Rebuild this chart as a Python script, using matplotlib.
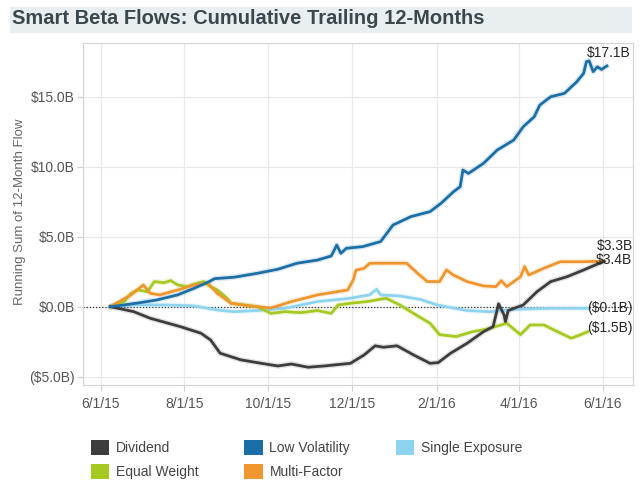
import matplotlib
matplotlib.use("Agg")
import matplotlib.pyplot as plt
import matplotlib.dates as mdates
from matplotlib.patches import Patch, Rectangle
from matplotlib.ticker import FixedLocator, FuncFormatter
import pandas as pd

plt.rcParams['font.family'] = ['Liberation Sans', 'DejaVu Sans']

# values, in $B
dividend_dates = ["2015-06-08", "2015-06-25", "2015-07-07", "2015-07-29", "2015-08-13", "2015-08-20",
                  "2015-08-27", "2015-09-11", "2015-09-26", "2015-10-08", "2015-10-18", "2015-10-30",
                  "2015-11-11", "2015-11-30", "2015-12-10", "2015-12-18", "2015-12-24", "2016-01-03",
                  "2016-01-15", "2016-01-27", "2016-02-02", "2016-02-11", "2016-02-23", "2016-03-06",
                  "2016-03-13", "2016-03-17", "2016-03-21", "2016-03-22", "2016-03-24", "2016-04-04",
                  "2016-04-14", "2016-04-24", "2016-05-06", "2016-05-18", "2016-06-02"]
dividend = [0.0, -0.36, -0.83, -1.43, -1.9, -2.38,
            -3.33, -3.8, -4.05, -4.24, -4.1, -4.33,
            -4.24, -4.05, -3.45, -2.8, -2.9, -2.8,
            -3.45, -4.05, -4.0, -3.33, -2.62, -1.79,
            -1.43, 0.2, -0.6, -1.07, -0.28, 0.12,
            1.07, 1.79, 2.14, 2.62, 3.25]

lowvol_dates = ["2015-06-08", "2015-06-18", "2015-06-30", "2015-07-12", "2015-07-27", "2015-08-08",
                "2015-08-19", "2015-08-23", "2015-09-06", "2015-09-23", "2015-10-08", "2015-10-22",
                "2015-11-06", "2015-11-16", "2015-11-20", "2015-11-23", "2015-11-27", "2015-12-09",
                "2015-12-22", "2015-12-31", "2016-01-13", "2016-01-27", "2016-02-04", "2016-02-13",
                "2016-02-18", "2016-02-20", "2016-02-24", "2016-03-06", "2016-03-16", "2016-03-28",
                "2016-04-04", "2016-04-12", "2016-04-16", "2016-04-24", "2016-05-04", "2016-05-13",
                "2016-05-18", "2016-05-20", "2016-05-22", "2016-05-25", "2016-05-28", "2016-05-31",
                "2016-06-04"]
lowvol = [0.0, 0.12, 0.29, 0.48, 0.84, 1.31,
          1.79, 2.0, 2.1, 2.38, 2.67, 3.1,
          3.33, 3.62, 4.4, 3.81, 4.17, 4.29,
          4.65, 5.83, 6.43, 6.79, 7.38, 8.2,
          8.57, 9.76, 9.52, 10.24, 11.19, 11.9,
          12.86, 13.57, 14.4, 15.0, 15.24, 16.07,
          16.67, 17.5, 17.57, 16.79, 17.14, 16.95,
          17.2]

single_dates = ["2015-06-08", "2015-06-25", "2015-07-19", "2015-08-08", "2015-08-25", "2015-09-06",
                "2015-09-23", "2015-10-13", "2015-11-06", "2015-11-30", "2015-12-14", "2015-12-19",
                "2015-12-22", "2016-01-05", "2016-01-20", "2016-02-01", "2016-02-23", "2016-03-11",
                "2016-03-30", "2016-04-24", "2016-05-21"]
single = [0.0, 0.12, 0.12, 0.05, -0.24, -0.36,
          -0.28, -0.12, 0.36, 0.6, 0.84, 1.24,
          0.84, 0.76, 0.52, 0.12, -0.28, -0.36,
          -0.19, -0.12, -0.12]

equal_dates = ["2015-06-08", "2015-06-18", "2015-06-23", "2015-06-28", "2015-07-05", "2015-07-10",
               "2015-07-17", "2015-07-22", "2015-07-27", "2015-08-03", "2015-08-10", "2015-08-15",
               "2015-08-20", "2015-08-25", "2015-09-01", "2015-09-04", "2015-09-13", "2015-09-23",
               "2015-10-03", "2015-10-13", "2015-10-25", "2015-11-06", "2015-11-16", "2015-11-21",
               "2015-11-30", "2015-12-12", "2015-12-26", "2016-01-05", "2016-01-17", "2016-01-27",
               "2016-02-03", "2016-02-15", "2016-02-27", "2016-03-08", "2016-03-23", "2016-04-02",
               "2016-04-09", "2016-04-19", "2016-04-29", "2016-05-09", "2016-05-16", "2016-05-21"]
equal = [0.0, 0.36, 0.95, 1.19, 1.07, 1.79,
         1.71, 1.86, 1.55, 1.43, 1.67, 1.79,
         1.43, 1.19, 0.6, 0.24, 0.12, 0.0,
         -0.48, -0.36, -0.43, -0.28, -0.48, 0.12,
         0.24, 0.36, 0.6, 0.12, -0.6, -1.19,
         -2.0, -2.14, -1.79, -1.62, -1.19, -2.0,
         -1.31, -1.31, -1.79, -2.26, -2.0, -1.79]

multi_dates = ["2015-06-08", "2015-06-23", "2015-07-02", "2015-07-07", "2015-07-14", "2015-07-27",
               "2015-08-08", "2015-08-18", "2015-08-25", "2015-09-04", "2015-09-18", "2015-10-03",
               "2015-10-18", "2015-11-06", "2015-11-28", "2015-12-02", "2015-12-04", "2015-12-10",
               "2015-12-14", "2016-01-10", "2016-01-18", "2016-01-25", "2016-02-03", "2016-02-08",
               "2016-02-13", "2016-02-23", "2016-03-06", "2016-03-15", "2016-03-19", "2016-03-23",
               "2016-04-02", "2016-04-05", "2016-04-08", "2016-04-19", "2016-05-01", "2016-05-18",
               "2016-06-01"]
multi = [0.0, 0.84, 1.55, 0.95, 0.84, 1.19,
         1.55, 1.67, 0.95, 0.24, 0.05, -0.1,
         0.36, 0.84, 1.19, 1.9, 2.6, 2.74,
         3.1, 3.1, 2.38, 1.79, 1.79, 2.62,
         2.26, 1.79, 1.48, 1.43, 1.86, 1.43,
         2.14, 2.86, 2.26, 2.74, 3.21, 3.21,
         3.25]

tick_dates = ["2015-06-01", "2015-08-01", "2015-10-01", "2015-12-01",
              "2016-02-01", "2016-04-01", "2016-06-01"]
tick_labels = ["6/1/15", "8/1/15", "10/1/15", "12/1/15", "2/1/16", "4/1/16", "6/1/16"]
y_ticks = [-5, 0, 5, 10, 15]

# name, dates, values, colour, end label, label offset (px), label alignment
series = [
    ("Dividend", dividend_dates, dividend, "#3d3d3d", "$3.4B", (28, 1), "right"),
    ("Low Volatility", lowvol_dates, lowvol, "#1c6ea6", "$17.1B", (24, 13), "right"),
    ("Single Exposure", single_dates, single, "#8fd4ee", "($0.1B)", (-1, 0), "left"),
    ("Equal Weight", equal_dates, equal, "#a5c920", "($1.5B)", (-1, 4), "left"),
    ("Multi-Factor", multi_dates, multi, "#f0962e", "$3.3B", (30, 15), "right"),
]

fig = plt.figure(figsize=(6.4, 4.88), dpi=100)
fig.patch.set_facecolor("white")
ax = fig.add_axes([83 / 640, 1 - 385 / 488, 550 / 640, 342 / 488])

# title band
fig.patches.append(Rectangle((10 / 640, 1 - 33 / 488), 622 / 640, 26 / 488,
                             transform=fig.transFigure, facecolor="#e9eef0", edgecolor="none"))
fig.text(12 / 640, 1 - 19 / 488, "Smart Beta Flows: Cumulative Trailing 12-Months",
         fontsize=14.5, fontweight="bold", color="#3a484e", va="center", ha="left")

ax.axhline(0, color="#333333", lw=0.9, ls=(0, (1, 1.5)), zorder=2)

draw_order = ["Single Exposure", "Equal Weight", "Multi-Factor", "Dividend", "Low Volatility"]
by_name = {s[0]: s for s in series}
for name in draw_order:
    _, dts, vals, color, lab, off, ha = by_name[name]
    x = pd.to_datetime(dts)
    ax.plot(x, vals, color=color, lw=4, alpha=0.15, solid_capstyle="round", zorder=3)
    ax.plot(x, vals, color=color, lw=2.0, solid_joinstyle="round", zorder=4)
    ax.annotate(lab, xy=(x[-1], vals[-1]), xytext=off, textcoords="offset pixels",
                ha=ha, va="center", fontsize=10, color="#262626", zorder=5)

ax.set_xlim(pd.Timestamp("2015-05-19"), pd.Timestamp("2016-06-23"))
ax.set_ylim(-5.6, 18.84)

ax.xaxis.set_major_locator(FixedLocator(mdates.date2num(pd.to_datetime(tick_dates))))
ax.set_xticklabels(tick_labels)
ax.set_yticks(y_ticks)
ax.yaxis.set_major_formatter(FuncFormatter(
    lambda v, p: f"${v:.1f}B" if v >= 0 else f"(${-v:.1f}B)"))

ax.grid(True, color="#e9e9e9", lw=0.9)
ax.set_axisbelow(True)
for sp in ax.spines.values():
    sp.set_color("#d6d6d6")
    sp.set_linewidth(0.9)
ax.tick_params(axis="both", colors="#d0d0d0", labelcolor="#555555", labelsize=10,
               length=4, width=0.8, pad=2)
ax.tick_params(axis="x", pad=5)

fig.text(20 / 640, 1 - 212 / 488, "Running Sum of 12-Month Flow", rotation=90,
         fontsize=9.5, color="#666666", ha="center", va="center")

handles = [Patch(facecolor=c, edgecolor="none", label=n)
           for n in ["Dividend", "Equal Weight", "Low Volatility", "Multi-Factor", "Single Exposure"]
           for c in [by_name[n][3]]]
fig.legend(handles=handles, loc="upper left", bbox_to_anchor=(91 / 640, 1 - 440 / 488),
           ncol=3, frameon=False, fontsize=10, handlelength=1.3, handleheight=1.3,
           handletextpad=0.5, columnspacing=3.3, labelspacing=0.6, borderpad=0,
           borderaxespad=0, labelcolor="#444444")

fig.savefig("out.png", dpi=100, facecolor="white")
